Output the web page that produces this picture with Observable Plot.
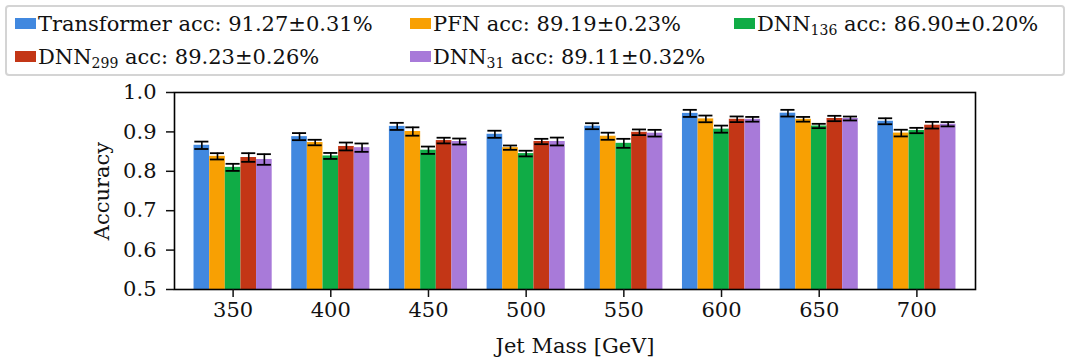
<!DOCTYPE html>
<html><head><meta charset="utf-8">
<script src="https://cdn.jsdelivr.net/npm/d3@7"></script>
<script src="https://cdn.jsdelivr.net/npm/@observablehq/plot@0.6"></script>
<style>
body{margin:0;background:#fff;font-family:"DejaVu Serif",serif;}
#wrap{width:1070px;height:362px;position:relative;}
#legend{position:absolute;left:5px;top:5px;width:1060px;height:71px;box-sizing:border-box;border:2px solid #d4d4d4;border-radius:4px;
 display:grid;grid-template-columns:395px 324px auto;grid-auto-rows:33px;padding-left:8px;padding-top:0px;font-size:21px;color:#111;background:#fff;}
.item{display:flex;align-items:center;white-space:nowrap;}
.sw{width:21px;height:11px;margin-right:2px;flex:none;}
sub{font-size:14px;vertical-align:-4px;line-height:0;}
#chart{position:absolute;left:0;top:76px;}
</style></head>
<body><div id="wrap"><div id="legend"></div><div id="chart"></div></div>
<script>
const masses = [350, 400, 450, 500, 550, 600, 650, 700];
const models = ["Transformer", "PFN", "DNN136", "DNN299", "DNN31"];
const legendNames = ["Transformer", "PFN", "DNN<sub>136</sub>", "DNN<sub>299</sub>", "DNN<sub>31</sub>"];
const overallAcc = ["91.27±0.31%", "89.19±0.23%", "86.90±0.20%", "89.23±0.26%", "89.11±0.32%"];
const colors = ["#4188df", "#f8a003", "#10ac46", "#c33616", "#a87ad9"];

const accTransformer = [0.866, 0.888, 0.914, 0.894, 0.9145, 0.947, 0.9475, 0.927];
const errTransformer = [0.0094, 0.009, 0.009, 0.009, 0.0076, 0.009, 0.0085, 0.0076];
const accPFN = [0.838, 0.873, 0.901, 0.860, 0.889, 0.933, 0.932, 0.897];
const errPFN = [0.008, 0.007, 0.0106, 0.0055, 0.009, 0.0085, 0.006, 0.0085];
const accDNN136 = [0.810, 0.839, 0.8535, 0.845, 0.871, 0.907, 0.915, 0.9035];
const errDNN136 = [0.009, 0.0076, 0.0093, 0.0072, 0.0114, 0.009, 0.0055, 0.0068];
const accDNN299 = [0.835, 0.863, 0.878, 0.8756, 0.899, 0.932, 0.934, 0.917];
const errDNN299 = [0.011, 0.010, 0.0072, 0.0068, 0.0072, 0.0072, 0.0068, 0.0085];
const accDNN31 = [0.830, 0.860, 0.8756, 0.8756, 0.8967, 0.932, 0.934, 0.9195];
const errDNN31 = [0.0135, 0.0106, 0.0076, 0.010, 0.0085, 0.006, 0.005, 0.0055];

const accs = [accTransformer, accPFN, accDNN136, accDNN299, accDNN31];
const errs = [errTransformer, errPFN, errDNN136, errDNN299, errDNN31];

const barW = 0.16, capHalf = 0.072;
const data = [];
models.forEach((m, j) => masses.forEach((ms, i) => {
  const c = i + (j - 2) * barW;
  data.push({model: m, i, c, x1: c - barW / 2, x2: c + barW / 2, acc: accs[j][i], err: errs[j][i]});
}));

// legend
const lg = document.getElementById("legend");
models.forEach((m, j) => {
  const d = document.createElement("div");
  d.className = "item";
  d.innerHTML = `<span class="sw" style="background:${colors[j]}"></span><span>${legendNames[j]} acc: ${overallAcc[j]}</span>`;
  lg.appendChild(d);
});

const chart = Plot.plot({
  width: 1070,
  height: 286,
  marginTop: 16,
  marginBottom: 73,
  marginLeft: 174,
  marginRight: 95,
  style: {fontFamily: "DejaVu Serif", fontSize: "21px", color: "#111", background: "#fff"},
  x: {domain: [-0.6, 7.6], label: null},
  y: {domain: [0.5, 1.0], label: null},
  color: {domain: models, range: colors},
  marks: [
    Plot.rectY(data, {x1: "x1", x2: "x2", y1: 0, y2: "acc", fill: "model", clip: true}),
    Plot.ruleX(data, {x: "c", y1: d => d.acc - d.err, y2: d => d.acc + d.err, stroke: "#000", strokeWidth: 1.6}),
    Plot.ruleY(data, {x1: d => d.c - capHalf, x2: d => d.c + capHalf, y: d => d.acc + d.err, stroke: "#000", strokeWidth: 1.8}),
    Plot.ruleY(data, {x1: d => d.c - capHalf, x2: d => d.c + capHalf, y: d => d.acc - d.err, stroke: "#000", strokeWidth: 1.8}),
    Plot.frame({stroke: "#000", strokeWidth: 1.6}),
    Plot.axisX({ticks: d3.range(masses.length), tickFormat: i => masses[i], tickSize: 8, tickPadding: 5, strokeWidth: 1.5, fontSize: 21, label: null}),
    Plot.axisY({ticks: [0.5, 0.6, 0.7, 0.8, 0.9, 1.0], tickFormat: ".1f", tickSize: 8, tickPadding: 10, strokeWidth: 1.5, fontSize: 21, label: null}),
    Plot.text(["Accuracy"], {frameAnchor: "left", dx: -72, rotate: -90, textAnchor: "middle", lineAnchor: "middle", fontSize: 21, fill: "#111"}),
    Plot.text(["Jet Mass [GeV]"], {frameAnchor: "bottom", dy: 57, textAnchor: "middle", lineAnchor: "middle", fontSize: 21, fill: "#111"})
  ]
});
document.getElementById("chart").appendChild(chart);
</script></body></html>
